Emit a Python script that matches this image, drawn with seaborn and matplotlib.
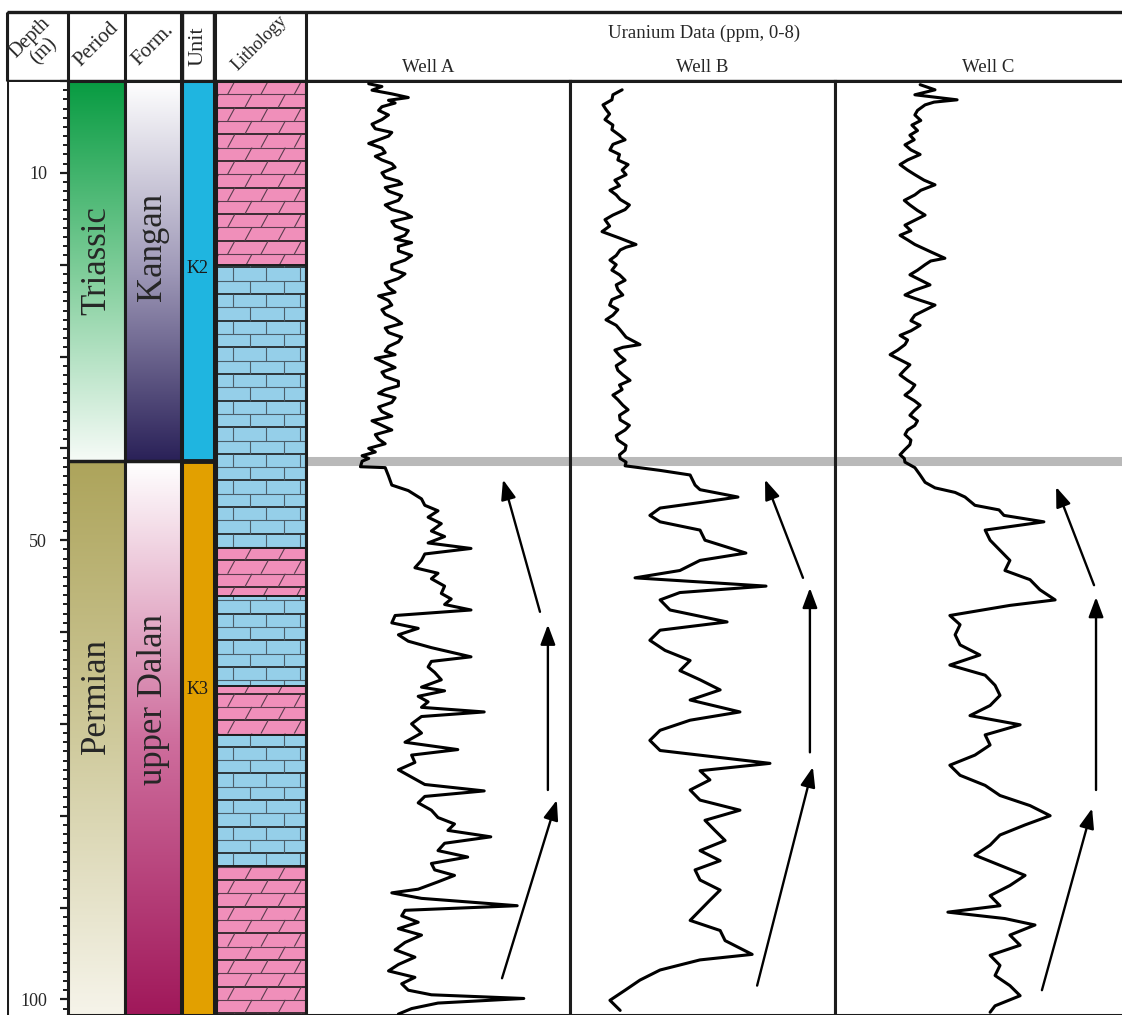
# -*- coding: utf-8 -*-
"""
Stratigraphic column + uranium logs for three wells (Kangan / upper Dalan).
Writes out.png (1122 x 1015 px).
"""
import numpy as np
import pandas as pd
import matplotlib
matplotlib.use("Agg")
import matplotlib.pyplot as plt
from matplotlib.colors import LinearSegmentedColormap
from matplotlib.collections import LineCollection
from matplotlib.ticker import MultipleLocator, FuncFormatter
import seaborn as sns

# ── Data ──────────────────────────────────────────────────────────────────────
DEPTH_MIN, DEPTH_MAX = 0.0, 101.7
DEPTH_LABELS = [10, 50, 100]
BOUNDARY = 41.4                      # Triassic / Permian, K2 / K3

PERIODS = ["Triassic", "Permian"]
PERIOD_TOP = [0.0, BOUNDARY]
PERIOD_BASE = [BOUNDARY, DEPTH_MAX]
PERIOD_LABEL_DEPTH = [19.6, 67.0]

FORMATIONS = ["Kangan", "upper Dalan"]
FORM_LABEL_DEPTH = [18.1, 67.4]

UNITS = ["K2", "K3"]
UNIT_LABEL_DEPTH = [20.4, 66.3]

LITH_TOP = [0.0, 20.0, 50.8, 56.1, 65.9, 71.2, 85.5]
LITH_BASE = [20.0, 50.8, 56.1, 65.9, 71.2, 85.5, DEPTH_MAX]
LITH_TYPE = ["dolomite", "limestone", "dolomite", "limestone",
             "dolomite", "limestone", "dolomite"]

WELLS = ["Well A", "Well B", "Well C"]

WELL_A_DEPTH = [0.3, 0.6, 1.0, 1.4, 1.8, 2.1, 2.4, 2.8, 3.2, 3.7, 4.2, 4.7,
                5.2, 5.6, 6.0, 6.4, 6.8, 7.3, 7.8, 8.2, 8.6, 9.0, 9.4, 10.0,
                10.5, 10.9, 11.2, 11.6, 12.0, 12.5, 13.0, 13.5, 14.0, 14.4,
                14.8, 15.3, 15.8, 16.3, 16.8, 17.2, 17.6, 18.0, 18.5, 19.0,
                19.5, 20.0, 20.5, 21.0, 21.5, 22.0, 22.5, 23.0, 23.4, 23.9,
                24.4, 24.9, 25.4, 25.9, 26.4, 26.9, 27.4, 27.9, 28.4, 28.9,
                29.4, 29.8, 30.2, 30.7, 31.2, 31.7, 32.2, 32.7, 33.2, 33.6,
                34.0, 34.5, 35.0, 35.5, 36.0, 36.5, 37.0, 37.5, 38.0, 38.5,
                39.0, 39.5, 40.0, 40.4, 40.8, 41.1, 41.4, 42.0, 42.1, 43.0,
                44.0, 44.6, 45.5, 46.2, 46.8, 47.5, 48.2, 49.0, 49.6, 50.3,
                50.9, 51.5, 52.2, 53.0, 53.6, 54.2, 55.0, 55.8, 56.4, 57.0,
                57.6, 58.2, 59.0, 59.6, 60.3, 61.0, 61.7, 62.7, 63.2, 63.8,
                64.4, 65.2, 66.0, 66.4, 67.0, 67.6, 68.2, 68.7, 69.2, 70.0,
                71.0, 72.0, 72.8, 73.4, 74.2, 75.0, 75.8, 76.6, 77.3, 77.9,
                78.6, 79.4, 80.2, 80.9, 81.6, 82.3, 83.0, 83.8, 84.5, 85.2,
                85.9, 86.5, 87.2, 88.0, 88.4, 89.0, 89.8, 90.3, 90.9, 91.6,
                92.3, 93.0, 93.8, 94.6, 95.4, 96.2, 96.9, 97.6, 98.3, 99.0,
                99.5, 99.9, 100.4, 101.0, 101.6]
WELL_A_PPM = [1.9, 2.3, 2.0, 2.6, 3.1, 2.5, 2.7, 2.3, 2.2, 2.5, 2.3, 2.0,
              2.1, 2.6, 2.5, 2.2, 1.9, 2.3, 2.4, 2.1, 2.3, 2.6, 2.7, 2.3,
              2.4, 2.8, 2.9, 2.4, 2.5, 2.9, 2.8, 2.4, 2.6, 3.0,
              3.2, 2.6, 2.7, 3.1, 3.0, 2.7, 3.2, 2.8, 2.8, 3.2,
              3.0, 2.6, 2.6, 3.0, 2.8, 2.4, 2.5, 2.7, 2.2, 2.5,
              2.6, 2.3, 2.4, 2.7, 2.9, 2.4, 2.5, 2.9, 2.8, 2.5,
              2.4, 2.7, 2.1, 2.4, 2.7, 2.3, 2.4, 2.8, 2.8, 2.4,
              2.2, 2.7, 2.6, 2.2, 2.3, 2.6, 2.0, 2.3, 2.6, 2.1,
              2.2, 2.4, 1.9, 2.1, 1.7, 1.9, 1.7, 1.65, 2.4, 2.5,
              2.6, 3.1, 3.5, 3.6, 4.0, 3.7, 4.1, 3.8, 4.2, 3.7,
              5.0, 3.6, 3.5, 3.3, 4.0, 3.8, 4.2, 4.1, 4.4, 4.2,
              5.0, 2.7, 2.6, 3.4, 2.8, 3.1, 3.8, 5.0, 3.8, 3.7,
              3.9, 4.1, 3.5, 4.2, 3.4, 3.7, 3.5, 5.4, 3.5, 3.2,
              3.5, 3.0, 4.6, 3.2, 3.3, 2.8, 3.2, 3.6, 5.4, 3.6,
              3.4, 3.8, 4.0, 4.5, 4.3, 5.6, 4.2, 4.0, 4.9, 3.8,
              3.9, 4.5, 4.0, 3.4, 2.6, 3.5, 6.4, 3.0, 2.9, 3.4,
              2.8, 3.5, 3.0, 2.7, 3.3, 2.8, 2.5, 3.3, 2.9, 3.1,
              3.8, 6.6, 4.0, 3.2, 2.8]

WELL_B_DEPTH = [0.96, 1.5, 2.05, 2.6, 3.1, 3.6, 4.2, 4.8, 5.3, 5.9, 6.4, 6.9,
                7.5, 8.0, 8.6, 9.1, 9.7, 10.2, 10.8, 11.4, 11.9, 12.4, 12.9,
                13.5, 14.0, 14.6, 15.1, 15.8, 16.4, 17.1, 17.8, 18.1, 18.4,
                19.0, 19.5, 20.0, 20.6, 21.1, 21.7, 22.2, 22.7, 23.3, 23.8,
                24.4, 24.9, 25.5, 26.0, 26.6, 27.1, 27.9, 28.7, 29.0, 29.3,
                29.9, 30.4, 31.0, 31.5, 32.0, 32.6, 33.1, 33.6, 34.2, 34.7,
                35.3, 35.8, 36.4, 36.9, 37.5, 38.0, 38.6, 39.1, 39.7, 40.2,
                40.7, 41.1, 41.5, 41.9, 42.4, 42.9, 44.0, 44.5, 45.3, 45.9,
                46.5, 47.3, 48.0, 48.9, 50.0, 51.4, 52.2, 53.3, 54.1, 55.0,
                55.7, 56.5, 57.6, 58.9, 59.8, 60.9, 62.0, 63.1, 64.2, 65.2,
                66.3, 67.4, 68.7, 69.6, 70.7, 71.8, 72.9, 74.3, 75.1, 76.1,
                77.2, 78.3, 79.4, 80.5, 81.6, 82.7, 83.8, 84.9, 85.9, 87.0,
                88.1, 89.2, 90.3, 91.4, 92.5, 93.6, 95.1, 95.7, 96.8, 97.9,
                99.0, 100.1, 101.2]
WELL_B_PPM = [1.58, 1.30, 1.27, 1.00, 1.09, 1.20, 1.06, 1.30, 1.27, 1.50, 1.67, 1.30,
              1.21, 1.50, 1.45, 1.76, 1.58, 1.70, 1.36, 1.50, 1.21, 1.40, 1.52,
              1.80, 1.67, 1.30, 1.06, 1.20, 0.97, 1.50, 2.00, 1.70, 1.52,
              1.40, 1.21, 1.40, 1.27, 1.50, 1.67, 1.40, 1.45, 1.60, 1.27,
              1.20, 1.45, 1.30, 1.09, 1.40, 1.52, 1.70, 2.12, 1.60, 1.36,
              1.50, 1.67, 1.40, 1.45, 1.60, 1.82, 1.50, 1.58, 1.30, 1.45,
              1.60, 1.76, 1.50, 1.52, 1.80, 1.67, 1.40, 1.45, 1.70, 1.67,
              1.50, 1.52, 1.70, 1.67, 2.73, 3.64, 3.79, 3.94, 5.09, 3.94,
              2.73, 2.42, 2.73, 3.94, 4.09, 5.33, 3.94, 3.33, 1.97, 5.94,
              3.33, 2.73, 3.03, 4.76, 2.73, 2.42, 2.88, 3.64, 3.33, 3.94,
              4.55, 3.64, 5.15, 3.64, 2.73, 2.42, 2.73, 6.06, 3.94, 4.24,
              3.64, 3.94, 5.15, 4.09, 4.39, 4.70, 3.94, 4.55, 3.79, 3.94,
              4.55, 4.24, 3.94, 3.64, 4.55, 4.70, 5.52, 3.94, 2.73, 2.12,
              1.67, 1.21, 1.52]

WELL_C_DEPTH = [0.4, 0.96, 1.5, 2.05, 2.3, 2.6, 3.2, 3.7, 4.3, 4.8, 5.4, 5.9,
                6.4, 6.95, 7.5, 8.0, 8.6, 9.1, 9.7, 10.2, 10.8, 11.3, 11.9,
                12.4, 13.0, 13.5, 14.1, 14.6, 15.2, 15.7, 16.3, 16.8, 17.3,
                17.8, 18.6, 19.3, 19.6, 20.0, 20.6, 21.1, 21.7, 22.2, 22.8,
                23.3, 23.9, 24.4, 25.0, 25.5, 26.1, 26.6, 27.2, 27.7, 28.2,
                28.7, 29.3, 29.8, 30.4, 30.9, 31.5, 32.0, 32.6, 33.1, 33.7,
                34.2, 34.8, 35.3, 35.9, 36.4, 37.0, 37.5, 38.0, 38.5, 39.1,
                39.6, 40.2, 40.7, 41.1, 41.5, 42.1, 42.9, 43.7, 44.3, 44.8,
                45.3, 46.2, 46.7, 47.3, 48.0, 48.9, 50.0, 51.1, 52.2, 53.3,
                54.3, 55.4, 56.5, 57.1, 58.2, 59.2, 60.3, 61.4, 62.5, 63.6,
                64.7, 65.8, 66.9, 68.0, 69.1, 70.1, 71.2, 72.3, 73.4, 74.5,
                75.6, 76.7, 77.8, 78.9, 80.0, 81.0, 82.1, 83.2, 84.3, 85.4,
                86.5, 87.6, 88.7, 89.8, 90.5, 91.2, 91.9, 93.0, 94.1, 95.2,
                96.3, 97.4, 98.5, 99.6, 100.7, 101.4]
WELL_C_PPM = [2.58, 3.03, 2.42, 3.70, 3.00, 2.73, 2.50, 2.42, 2.60, 2.33, 2.50, 2.27,
              2.40, 2.12, 2.30, 2.58, 2.20, 1.97, 2.20, 2.42, 2.70, 3.03, 2.60,
              2.42, 2.10, 2.27, 2.50, 2.73, 2.40, 2.12, 2.30, 1.97, 2.20,
              2.42, 2.90, 3.33, 2.90, 2.73, 2.50, 2.27, 2.60, 2.88, 2.40,
              2.12, 2.60, 3.03, 2.70, 2.42, 2.30, 2.58, 2.30, 1.97, 2.20,
              2.12, 1.90, 1.67, 2.00, 2.27, 2.10, 1.97, 2.20, 2.42, 2.30,
              2.12, 2.40, 2.58, 2.40, 2.27, 2.50, 2.42, 2.20, 2.12, 2.30,
              2.27, 2.10, 1.97, 2.10, 2.12, 2.42, 2.58, 2.73, 3.03, 3.64,
              3.94, 4.24, 4.97, 5.12, 6.33, 4.55, 4.70, 5.00, 5.30, 5.15,
              5.91, 6.21, 6.67, 5.30, 3.48, 3.79, 3.64, 3.79, 4.39, 3.48,
              4.55, 4.85, 5.00, 4.70, 4.09, 5.61, 4.55, 4.70, 4.24, 3.48,
              3.79, 4.55, 5.00, 5.91, 6.52, 5.76, 5.00, 4.70, 4.24, 5.00,
              5.76, 5.30, 4.70, 5.00, 3.42, 5.15, 6.06, 5.30, 5.61, 4.70,
              5.00, 4.85, 5.30, 5.61, 4.85, 4.70]

# trend arrows per well: (tail ppm, tail depth, head ppm, head depth)
ARROWS = {
    "Well A": [(5.94, 97.7, 7.60, 78.3), (7.33, 77.2, 7.33, 59.2), (7.09, 57.8, 5.97, 43.4)],
    "Well B": [(5.67, 98.5, 7.36, 74.7), (7.27, 73.1, 7.27, 55.2), (7.06, 54.1, 5.91, 43.4)],
    "Well C": [(6.27, 99.0, 7.79, 79.2), (7.91, 77.2, 7.91, 56.2), (7.85, 54.9, 6.70, 44.2)],
}

# ── Style / layout ────────────────────────────────────────────────────────────
W, H = 1122, 1015
LINE = "#1c1c1c"
FONT = ["Liberation Serif", "DejaVu Serif"]

sns.set_style("white")
plt.rcParams["font.family"] = FONT
plt.rcParams["axes.edgecolor"] = LINE
plt.rcParams["ytick.left"] = True
plt.rcParams["ytick.minor.left"] = True

PERIOD_CMAPS = [["#079b41", "#7ecd99", "#f6fbf7"],
                ["#ada45b", "#cfca9c", "#f6f4ea"]]
FORM_CMAPS = [["#ffffff", "#9f99b8", "#2a2158"],
              ["#ffffff", "#cf6f9e", "#a0185a"]]
UNIT_COLORS = ["#1fb5e0", "#e2a000"]
LITH_COLORS = {"dolomite": "#f08fba", "limestone": "#95cfe9"}
LITH_LINE = {"dolomite": "#5a3d4e", "limestone": "#4c5f6b"}

DATA_TOP_PX = 81
HEAD_TOP_PX = 12
COLS = {"depth": (7, 68), "period": (68, 125), "form": (125, 181),
        "unit": (182, 214), "lith": (216, 306),
        "Well A": (306, 570), "Well B": (570, 835), "Well C": (835, 1132)}


def px_axes(fig, x0, x1, y0=DATA_TOP_PX, y1=H):
    return fig.add_axes([x0 / W, 1 - y1 / H, (x1 - x0) / W, (y1 - y0) / H])


def column_axes(fig, key):
    ax = px_axes(fig, *COLS[key])
    ax.set_xlim(0, 1)
    ax.set_xticks([])
    ax.set_yticks([])
    for s in ax.spines.values():
        s.set_linewidth(2.2)
        s.set_color(LINE)
    return ax


def gradient(ax, top, base, colors):
    cmap = LinearSegmentedColormap.from_list("g", colors)
    ax.imshow(np.linspace(0, 1, 256).reshape(-1, 1), extent=(0, 1, base, top),
              origin="upper", aspect="auto", cmap=cmap, zorder=0)


def lith_pattern(ax, top, base, kind, row_h=1.45):
    span = ax.axhspan(top, base, color=LITH_COLORS[kind], lw=0, zorder=1)
    k0, k1 = int(np.floor(top / row_h)), int(np.ceil(base / row_h))
    hsegs, vsegs = [], []
    for k in range(k0, k1 + 1):
        y = k * row_h
        hsegs.append([(0, y), (1, y)])
        off = 0.13 if k % 2 == 0 else 0.32
        for x in np.arange(off - 0.37, 1.1, 0.37):
            if kind == "dolomite":
                vsegs.append([(x, y + row_h), (x + 0.08, y)])
            else:
                vsegs.append([(x + 0.06, y + row_h), (x + 0.06, y)])
    lw_h = [1.2 if k % 2 == 0 else 0.8 for k in range(k0, k1 + 1)]
    col_h = [LINE if k % 2 == 0 else LITH_LINE[kind] for k in range(k0, k1 + 1)]
    for segs, lws, cols in [(hsegs, lw_h, col_h), (vsegs, 0.8, LITH_LINE[kind])]:
        lc = LineCollection(segs, colors=cols, linewidths=lws, zorder=2)
        ax.add_collection(lc)
        lc.set_clip_path(span)
    ax.axhline(top, color=LINE, lw=1.4, zorder=3)


fig = plt.figure(figsize=(W / 100, H / 100), dpi=100)

# ── Period column (also carries the depth scale) ──────────────────────────────
ax_per = column_axes(fig, "period")
for name, top, base, yl, cols in zip(PERIODS, PERIOD_TOP, PERIOD_BASE,
                                     PERIOD_LABEL_DEPTH, PERIOD_CMAPS):
    gradient(ax_per, top, base, cols)
    ax_per.text(0.5, yl, name, rotation=90, ha="center", va="center", fontsize=25)
ax_per.axhline(BOUNDARY, color=LINE, lw=2.5)
ax_per.set_ylim(DEPTH_MAX, DEPTH_MIN)
ax_per.set_yticks(np.arange(0, 101, 10))
ax_per.set_yticks(np.arange(0, 102, 1), minor=True)
ax_per.yaxis.set_major_formatter(FuncFormatter(
    lambda v, p: f"{v:.0f}" if int(round(v)) in DEPTH_LABELS else ""))
ax_per.tick_params(axis="y", which="major", left=True, direction="out",
                   length=6, width=1.6, color=LINE, labelsize=13, pad=9)
ax_per.tick_params(axis="y", which="minor", left=True, direction="out",
                   length=3.3, width=1.4, color=LINE)

# ── Formation column ──────────────────────────────────────────────────────────
ax_form = column_axes(fig, "form")
for name, top, base, yl, cols in zip(FORMATIONS, PERIOD_TOP, PERIOD_BASE,
                                     FORM_LABEL_DEPTH, FORM_CMAPS):
    gradient(ax_form, top, base, cols)
    ax_form.text(0.5, yl, name, rotation=90, ha="center", va="center", fontsize=25)
ax_form.axhline(BOUNDARY, color=LINE, lw=2.5)
ax_form.set_ylim(DEPTH_MAX, DEPTH_MIN)

# ── Unit column ───────────────────────────────────────────────────────────────
ax_unit = column_axes(fig, "unit")
for name, top, base, yl, c in zip(UNITS, PERIOD_TOP, PERIOD_BASE,
                                  UNIT_LABEL_DEPTH, UNIT_COLORS):
    ax_unit.axhspan(top, base, color=c, lw=0)
    ax_unit.text(0.5, yl, name, ha="center", va="center", fontsize=13, color="#1a1a1a")
ax_unit.axhline(BOUNDARY, color=LINE, lw=3.5)
ax_unit.set_ylim(DEPTH_MAX, DEPTH_MIN)

# ── Lithology column ──────────────────────────────────────────────────────────
ax_lith = column_axes(fig, "lith")
for top, base, kind in zip(LITH_TOP, LITH_BASE, LITH_TYPE):
    lith_pattern(ax_lith, top, base, kind)
ax_lith.set_ylim(DEPTH_MAX, DEPTH_MIN)

# ── Uranium logs ──────────────────────────────────────────────────────────────
logs = pd.concat([
    pd.DataFrame({"well": "Well A", "depth": WELL_A_DEPTH, "ppm": WELL_A_PPM}),
    pd.DataFrame({"well": "Well B", "depth": WELL_B_DEPTH, "ppm": WELL_B_PPM}),
    pd.DataFrame({"well": "Well C", "depth": WELL_C_DEPTH, "ppm": WELL_C_PPM}),
])

ref_width = COLS["Well A"][1] - COLS["Well A"][0]
for well in WELLS:
    x0, x1 = COLS[well]
    ax = px_axes(fig, x0, x1)
    ax.axhline(BOUNDARY, color="#b9b9b9", lw=6.5, zorder=1)
    sns.lineplot(data=logs[logs["well"] == well], x="ppm", y="depth", ax=ax,
                 sort=False, estimator=None, orient="y", color="black",
                 lw=2.2, zorder=3)
    for tx, ty, hx, hy in ARROWS[well]:
        ax.annotate("", xy=(hx, hy), xytext=(tx, ty), zorder=4,
                    arrowprops=dict(arrowstyle="-|>,head_length=0.8,head_width=0.3",
                                    color="black", lw=1.7, mutation_scale=15,
                                    shrinkA=0, shrinkB=0))
    ax.set_xlim(0, 8 * (x1 - x0) / ref_width)
    ax.set_ylim(DEPTH_MAX, DEPTH_MIN)
    ax.set_xticks([])
    ax.set_yticks([])
    ax.set_xlabel("")
    ax.set_ylabel("")
    for s in ax.spines.values():
        s.set_linewidth(2.2)
        s.set_color(LINE)

# ── Left border of depth column ───────────────────────────────────────────────
ax_dep = px_axes(fig, *COLS["depth"], y0=HEAD_TOP_PX)
ax_dep.axis("off")
ax_dep.axvline(0, color=LINE, lw=2.2)

# ── Header ────────────────────────────────────────────────────────────────────
ax_h = px_axes(fig, 0, W, y0=HEAD_TOP_PX - 2, y1=DATA_TOP_PX + 1)
ax_h.set_xlim(0, W)
ax_h.set_ylim(DATA_TOP_PX + 1, HEAD_TOP_PX - 2)
ax_h.axis("off")
ax_h.hlines([HEAD_TOP_PX, DATA_TOP_PX], 7, W, color=LINE, lw=2.4)
ax_h.vlines([7, 68, 125, 181, 215, 306], HEAD_TOP_PX, DATA_TOP_PX, color=LINE, lw=2.2)
ax_h.vlines([183, 213], HEAD_TOP_PX, DATA_TOP_PX, color=LINE, lw=1.0)

ax_h.text(37, 45, "Depth\n(m)", rotation=45, ha="center", va="center",
          fontsize=14.5, linespacing=0.95)
ax_h.text(97, 45, "Period", rotation=45, ha="center", va="center", fontsize=15)
ax_h.text(153, 45, "Form.", rotation=45, ha="center", va="center", fontsize=15)
ax_h.text(198, 46, "Unit", rotation=90, ha="center", va="center", fontsize=16)
ax_h.text(259, 43, "Lithology", rotation=45, ha="center", va="center", fontsize=13)
ax_h.text(704, 33, "Uranium Data (ppm, 0-8)", ha="center", va="center", fontsize=13.5)
for well, xc in zip(WELLS, [428, 702, 988]):
    ax_h.text(xc, 67, well, ha="center", va="center", fontsize=13.5)

fig.savefig("out.png", dpi=100)
